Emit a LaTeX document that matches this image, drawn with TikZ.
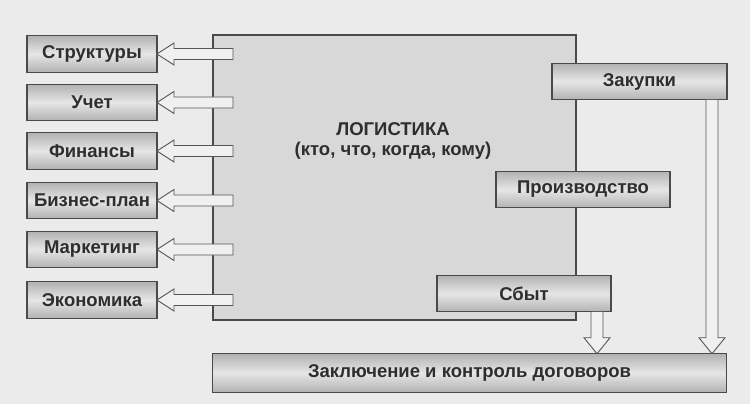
\documentclass[tikz,border=0pt]{standalone}
\usepackage{fontspec}
\setmainfont{Liberation Sans}
\usetikzlibrary{calc}
\definecolor{bg}{HTML}{EBEBEB}
\definecolor{bigfill}{HTML}{D8D8D8}
\definecolor{edge}{HTML}{4A4A4A}
\definecolor{txt}{HTML}{2E2E2E}
\definecolor{shadeout}{HTML}{B2B2B2}
\definecolor{shadein}{HTML}{E6E6E6}
\definecolor{arrfill}{HTML}{F0F0F0}
\definecolor{arredge}{HTML}{555555}
\newcommand\leftblockarrow[2]{%
  \filldraw[blockarr] let \p1=(#2.east), \p2=(#1.west) in
    (\x2+20pt,\y1+5.5pt) -- (\x1+17pt,\y1+5.5pt) -- (\x1+17pt,\y1+11pt) -- (\x1,\y1)
    -- (\x1+17pt,\y1-11pt) -- (\x1+17pt,\y1-5.5pt) -- (\x2+20pt,\y1-5.5pt) -- cycle;}
\newcommand\downblockarrow[3]{%
  \filldraw[blockarr] let \p1=(#1.south east), \p2=(#2.north) in
    (\x1-#3pt-6pt,\y1) -- (\x1-#3pt-6pt,\y2+16pt) -- (\x1-#3pt-13pt,\y2+16pt) -- (\x1-#3pt,\y2)
    -- (\x1-#3pt+13pt,\y2+16pt) -- (\x1-#3pt+6pt,\y2+16pt) -- (\x1-#3pt+6pt,\y1);}
\begin{document}
\begin{tikzpicture}[x=1pt,y=-1pt,
  box/.style={draw=edge, line width=1.1pt, top color=shadeout, bottom color=shadeout,
    middle color=shadein, text=txt, font=\bfseries\fontsize{18.5}{20}\selectfont,
    inner sep=0pt, outer sep=0pt, minimum height=36.5pt},
  bigbox/.style={draw=edge, line width=1.1pt, fill=bigfill, inner sep=0pt, outer sep=0pt},
  titletext/.style={text=txt, font=\bfseries\fontsize{18.5}{19.5}\selectfont, align=center, inner sep=0pt},
  blockarr/.style={draw=arredge, fill=arrfill, line width=0.9pt, line join=miter}]
\fill[bg] (0,0) rectangle (750,404);
\useasboundingbox (0,0) rectangle (750,404);
% big box
\node[bigbox, minimum width=363pt, minimum height=285pt] (big) at (394.5,177.5) {};
\node[titletext] (title) at (393,141) {ЛОГИСТИКА\\(кто, что, когда, кому)};
% left boxes
\node[box, minimum width=130pt] (s1) at (92,54) {Структуры};
\node[box, minimum width=130pt] (s2) at (92,102.5) {Учет};
\node[box, minimum width=130pt] (s3) at (92,151) {Финансы};
\node[box, minimum width=130pt] (s4) at (92,200.5) {Бизнес-план};
\node[box, minimum width=130pt] (s5) at (92,249.5) {Маркетинг};
\node[box, minimum width=130pt] (s6) at (92,300) {Экономика};
\foreach \bx in {s1,s2,s3,s4,s5,s6} {\leftblockarrow{big}{\bx}}
% right boxes
\node[box, minimum width=514pt, minimum height=38.5pt] (contr) at (469.5,373) {Заключение и контроль договоров};
\node[box, minimum width=175pt] (zak) at (639.5,81.5) {Закупки};
\node[box, minimum width=174pt] (proizv) at (583,189.5) {Производство};
\node[box, minimum width=174pt] (sbyt) at (524,293.5) {Сбыт};
\downblockarrow{sbyt}{contr}{14}
\downblockarrow{zak}{contr}{15}
\end{tikzpicture}
\end{document}
